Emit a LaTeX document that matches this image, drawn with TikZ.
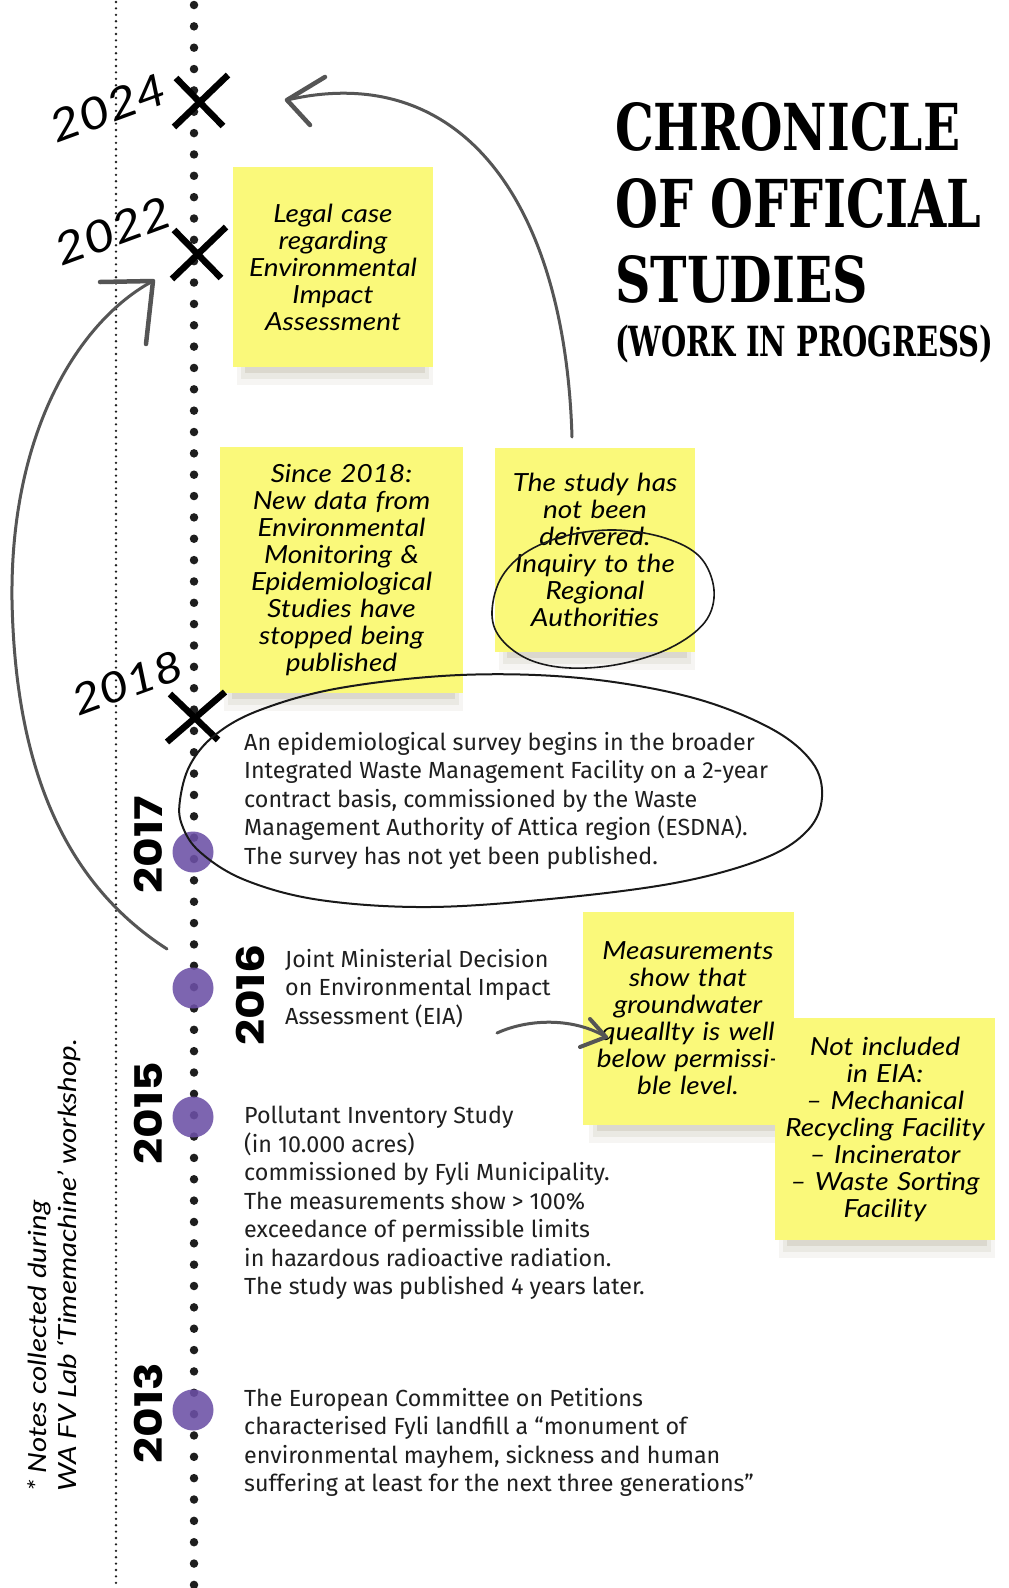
\documentclass[tikz,border=0pt]{standalone}
\usepackage{fontspec}
\usepackage{graphicx}
\setmainfont{Fira Sans}
\newfontfamily\handfont{Lato}[FakeStretch=1.12]
\newfontfamily\handwide{Lato}[FakeStretch=1.18]
\newfontfamily\yearfont{Poppins}[FakeStretch=1.2]
\newfontfamily\stencilfont{DejaVu Serif}
\definecolor{noteyellow}{RGB}{250,249,122}
\definecolor{tlpurple}{RGB}{108,80,166}
\definecolor{arrowgray}{RGB}{85,85,85}
\definecolor{dotgray}{RGB}{30,30,30}
\definecolor{shadowbrown}{RGB}{90,75,30}
\newcommand\noteshadow[3]{%
  \fill[shadowbrown,opacity=0.05] ({#1+4},{#3-20}) rectangle ({#2},{#3+18});
  \fill[shadowbrown,opacity=0.07] ({#1+8},{#3-20}) rectangle ({#2-4},{#3+12});
  \fill[shadowbrown,opacity=0.10] ({#1+12},{#3-20}) rectangle ({#2-8},{#3+6});
}
\begin{document}
\begin{tikzpicture}[x=1pt,y=-1pt,
  note/.style={fill=noteyellow, inner sep=0pt, align=center,
    font=\handfont\itshape\fontsize{25}{27}\selectfont},
  body/.style={inner sep=0pt, align=left, anchor=north west,
    font=\fontsize{23.3}{28.5}\selectfont, text=black!88},
  yearbold/.style={rotate=90, inner sep=0pt, font=\yearfont\bfseries\fontsize{38}{38}\selectfont},
  yearhand/.style={rotate=20, inner sep=0pt, font=\handwide\itshape\fontsize{44}{44}\selectfont},
  xmark/.style={line width=6.5pt, black},
  event/.style={circle, fill=tlpurple, fill opacity=0.88, draw=none, minimum size=41pt, inner sep=0pt},
  harrow/.style={draw=arrowgray, line width=3pt, line cap=round, line join=round},
  loopline/.style={draw=black!90, line width=2pt},
  title/.style={inner sep=0pt, anchor=north west, font=\stencilfont\bfseries},
]
\useasboundingbox (0,0) rectangle (1009,1588);
\fill[white] (0,0) rectangle (1009,1588);

% timelines
\draw[dotgray, line width=2.6pt, line cap=round, dash pattern=on 0pt off 6.4pt] (116,2) -- (116,1588);
\draw[dotgray, line width=8.5pt, line cap=round, dash pattern=on 0pt off 21.35pt] (194,5) -- (194,1590);

% shadows
\noteshadow{233}{433}{367}
\noteshadow{220}{463}{693}
\noteshadow{495}{695}{652}
\noteshadow{585}{796}{1125}
\noteshadow{775}{995}{1240}

% sticky notes
\node[note, text width=200pt, minimum height=200pt] (legal) at (333,267)
  {Legal case\\regarding\\Environmental\\Impact\\Assessment};
\node[note, text width=243pt, minimum height=246pt] (since) at (341.5,570)
  {Since 2018:\\New data from\\Environmental\\Monitoring \&\\Epidemiological\\Studies have\\stopped being\\published};
\node[note, text width=200pt, minimum height=204pt] (notdeliv) at (595,550)
  {The study has\\not been\\delivered.\\Inquiry to the\\Regional\\Authorities};
\node[note, text width=211pt, minimum height=213pt] (measure) at (688,1018.5)
  {Measurements\\show that\\groundwater\\queallty is well\\below permissi-\\ble level.};
\node[note, text width=220pt, minimum height=222pt] (notincl) at (885,1129)
  {Not included\\in EIA:\\– Mechanical\\Recycling Facility\\– Incinerator\\– Waste Sorting\\Facility};

% body texts
\node[body] (t2017) at (244,732) {An epidemiological survey begins in the broader\\Integrated Waste Management Facility on a 2-year\\contract basis, commissioned by the Waste\\Management Authority of Attica region (ESDNA).\\The survey has not yet been published.};
\node[body] (t2016) at (285,949) {Joint Ministerial Decision\\on Environmental Impact\\Assessment (EIA)};
\node[body] (t2015) at (244,1106) {Pollutant Inventory Study\\(in 10.000 acres)\\commissioned by Fyli Municipality.\\The measurements show > 100\%\\exceedance of permissible limits\\in hazardous radioactive radiation.\\The study was published 4 years later.};
\node[body] (t2013) at (244,1388) {The European Committee on Petitions\\characterised Fyli landfill a “monument of\\environmental mayhem, sickness and human\\suffering at least for the next three generations”};

% title
\node[title] (title1) at (615,102) {\resizebox{345pt}{48pt}{CHRONICLE}};
\node[title] (title2) at (615,178) {\resizebox{366pt}{49pt}{OF OFFICIAL}};
\node[title] (title3) at (615,255) {\resizebox{253pt}{47pt}{STUDIES}};
\node[title] (title4) at (615,325) {\resizebox*{378pt}{38pt}{(WORK IN PROGRESS)}};

% credit
\node[rotate=90, anchor=north west, align=left, inner sep=0pt,
  font=\handwide\itshape\fontsize{25}{30}\selectfont] (credit) at (27,1492)
  {* Notes collected during\\WA FV Lab ‘Timemachine’ workshop.};

% X marks
\coordinate (x2024) at (198,101);
\coordinate (x2022) at (196,253);
\coordinate (x2018) at (194,716);
\draw[xmark] (x2024) ++(-22,-23) -- ++(47,48) (x2024) ++(30,-26) -- ++(-54,52);
\draw[xmark] (x2022) ++(-22,-23) -- ++(47,48) (x2022) ++(30,-26) -- ++(-54,52);
\draw[xmark] (x2018) ++(-24,-22) -- ++(48,46) (x2018) ++(31,-24) -- ++(-58,50);

% event circles
\node[event] (c2017) at (193,852) {};
\node[event] (c2016) at (193,988) {};
\node[event] (c2015) at (193,1117) {};
\node[event] (c2013) at (193,1410) {};

% years
\node[yearbold] (y2017) at (148,845) {2017};
\node[yearbold] (y2016) at (250,995) {2016};
\node[yearbold] (y2015) at (148,1113) {2015};
\node[yearbold] (y2013) at (148,1413) {2013};
\node[yearhand] (h2024) at (108,108) {2024};
\node[yearhand] (h2022) at (113,231) {2022};
\node[yearhand, font=\handwide\itshape\fontsize{42}{42}\selectfont] (h2018) at (127,683) {2018};

% loops
\draw[loopline] plot[smooth cycle, tension=0.6] coordinates {(180,800) (190,765) (215,735) (260,710) (340,688) (460,675) (580,678) (690,697) (770,728) (812,762) (822,797) (808,830) (765,858) (680,882) (560,898) (430,907) (320,900) (245,880) (200,852) (182,825)};
\draw[loopline, line width=1.6pt] plot[smooth cycle, tension=0.6] coordinates {(492,615) (500,580) (525,553) (565,536) (615,530) (665,538) (700,557) (714,590) (705,622) (670,648) (620,664) (570,668) (530,660) (502,640)};

% arrows
\coordinate (a1s) at (572,437);
\coordinate (a1e) at (287,100);
\draw[harrow] (a1s) .. controls (565,200) and (460,60) .. (a1e);
\draw[harrow, line width=4.5pt] (a1e) -- ++(38,-23) (a1e) -- ++(23,25);

\coordinate (a2s) at (167,949);
\coordinate (a2m) at (12,600);
\coordinate (a2e) at (153,281);
\draw[harrow] (a2s) .. controls (60,880) and (15,760) .. (a2m) .. controls (10,430) and (80,320) .. (a2e);
\draw[harrow, line width=4.5pt] (a2e) -- ++(-53,1) (a2e) -- ++(-7,63);

\coordinate (a3s) at (497,1033);
\coordinate (a3e) at (606,1037);
\draw[harrow] (a3s) .. controls (530,1018) and (575,1018) .. (a3e);
\draw[harrow, line width=4pt] (a3e) -- ++(-16,-18) (a3e) -- ++(-26,10);
\end{tikzpicture}
\end{document}
